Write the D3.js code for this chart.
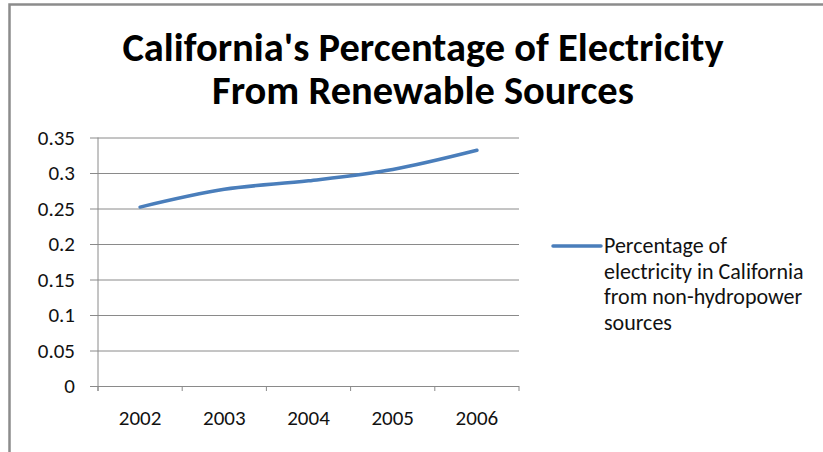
<!DOCTYPE html>
<html>
<head>
<meta charset="utf-8">
<script src="https://cdn.jsdelivr.net/npm/d3@7"></script>
<style>
  body { margin: 0; background: #fff; }
  svg { display: block; font-family: Carlito, Lato, "Open Sans", sans-serif; }
</style>
</head>
<body>
<svg class="line-chart"></svg>
<script>
'use strict';

var years = ['2002', '2003', '2004', '2005', '2006'];
var shares = [0.252, 0.277, 0.289, 0.305, 0.332];
var yTicks = [0, 0.05, 0.1, 0.15, 0.2, 0.25, 0.3, 0.35];
var titleLines = ["California's Percentage of Electricity", 'From Renewable Sources'];
var legendLines = ['Percentage of', 'electricity in California', 'from non-hydropower', 'sources'];

var svgWidth = 823,
    svgHeight = 452,
    margin = { top: 137.5, right: 304, bottom: 66, left: 98 },
    width = svgWidth - margin.left - margin.right,
    height = svgHeight - margin.top - margin.bottom,
    fontFamily = 'Carlito, Lato, "Open Sans", sans-serif';

var svg = d3.select('svg.line-chart')
    .attr('width', svgWidth)
    .attr('height', svgHeight);

// outer frame (only top and left edges visible)
svg.append('path')
    .attr('d', 'M9.5,' + svgHeight + 'V4.5H' + svgWidth)
    .attr('fill', 'none')
    .attr('stroke', '#8c8c8c')
    .attr('stroke-width', 2.5);

svg.append('g').selectAll('text')
    .data(titleLines)
    .enter()
    .append('text')
    .attr('x', 423)
    .attr('y', function(d, i) { return 61 + i * 43; })
    .attr('text-anchor', 'middle')
    .attr('font-size', 40.5)
    .attr('font-weight', 'bold')
    .attr('fill', '#000')
    .text(function(d) { return d; });

var xScale = d3.scaleBand().domain(years).range([0, width]);
var yScale = d3.scaleLinear().domain([0, 0.35]).range([height, 0]);

var plot = svg.append('g')
    .attr('transform', 'translate(' + margin.left + ',' + margin.top + ')');

// gridlines + y ticks
var yAxis = d3.axisLeft(yScale)
    .tickValues(yTicks)
    .tickSize(-width)
    .tickPadding(23)
    .tickFormat(function(d) { return d3.format('')(+d.toFixed(2)); });

var gy = plot.append('g').call(yAxis)
    .attr('font-family', fontFamily)
    .attr('font-size', 21);
gy.select('.domain').remove();
gy.selectAll('.tick line')
    .attr('x1', -8)
    .attr('stroke', '#8a8a8a');
gy.selectAll('text')
    .attr('fill', '#111');

plot.append('line')
    .attr('x1', 0).attr('x2', 0)
    .attr('y1', 0).attr('y2', height + 5)
    .attr('stroke', '#8a8a8a');

// x axis ticks at category boundaries
var boundaries = years.map(function(d) { return xScale(d); }).concat([width]);
plot.append('g').selectAll('line')
    .data(boundaries)
    .enter()
    .append('line')
    .attr('x1', function(d) { return d; })
    .attr('x2', function(d) { return d; })
    .attr('y1', height)
    .attr('y2', height + 5)
    .attr('stroke', '#8a8a8a');

plot.append('g').selectAll('text')
    .data(years)
    .enter()
    .append('text')
    .attr('x', function(d) { return xScale(d) + xScale.bandwidth() / 2; })
    .attr('y', height + 39)
    .attr('text-anchor', 'middle')
    .attr('font-size', 21)
    .attr('fill', '#111')
    .text(function(d) { return d; });

var line = d3.line()
    .x(function(d, i) { return xScale(years[i]) + xScale.bandwidth() / 2; })
    .y(function(d) { return yScale(d); })
    .curve(d3.curveMonotoneX);

plot.append('path')
    .attr('d', line(shares))
    .attr('fill', 'none')
    .attr('stroke', '#4a7ebb')
    .attr('stroke-width', 3.5)
    .attr('stroke-linecap', 'round');

// legend
var legend = svg.append('g').attr('transform', 'translate(553,246)');
legend.append('line')
    .attr('x1', 0).attr('x2', 48)
    .attr('stroke', '#4a7ebb')
    .attr('stroke-width', 3.5)
    .attr('stroke-linecap', 'round');
legend.append('g').selectAll('text')
    .data(legendLines)
    .enter()
    .append('text')
    .attr('x', 51)
    .attr('y', function(d, i) { return 7 + i * 25.5; })
    .attr('font-size', 22)
    .attr('fill', '#111')
    .text(function(d) { return d; });
</script>
</body>
</html>
